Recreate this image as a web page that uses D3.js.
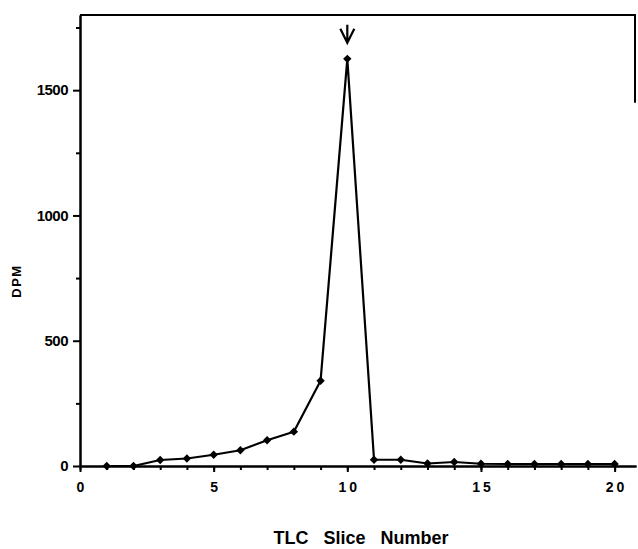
<!DOCTYPE html>
<html>
<head>
<meta charset="utf-8">
<script src="https://cdn.jsdelivr.net/npm/d3@7"></script>
<style>
  body { margin: 0; background: #fff; }
  svg { display: block; font-family: "Liberation Sans", Arial, sans-serif; }
  .axis path, .axis line { stroke: #000; stroke-width: 2; }
  .axis text { font-weight: bold; fill: #000; }
</style>
</head>
<body>
<svg width="638" height="549"></svg>
<script>
// TLC slice numbers and measured radioactivity
const slices = [1, 2, 3, 4, 5, 6, 7, 8, 9, 10, 11, 12, 13, 14, 15, 16, 17, 18, 19, 20];
const dpm = [0, 0, 24, 30, 45, 63, 103, 137, 340, 1625, 25, 25, 10, 16, 9, 8, 8, 8, 8, 8];
const xMajorTicks = [0, 5, 10, 15, 20];
const yMajorTicks = [0, 500, 1000, 1500];
const yMinorTicks = [250, 750, 1250, 1750];
const peakSlice = 10;

const svg = d3.select("svg");

// plot box in pixels
const plotLeft = 80, plotRight = 636, plotTop = 15, plotBottom = 466;

const x = d3.scaleLinear().domain([0, 20.8]).range([plotLeft, plotRight]);
const y = d3.scaleLinear().domain([0, 1800]).range([plotBottom, plotTop]);

const data = slices.map((s, i) => ({ s: s, v: dpm[i] }));

// frame: top edge and upper part of the right edge
svg.append("line")
    .attr("x1", x(0)).attr("x2", x(20.8))
    .attr("y1", y(1800)).attr("y2", y(1800))
    .attr("stroke", "#000").attr("stroke-width", 2);
svg.append("line")
    .attr("x1", x(20.8) - 1).attr("x2", x(20.8) - 1)
    .attr("y1", y(1800)).attr("y2", y(1450))
    .attr("stroke", "#000").attr("stroke-width", 2);

// x axis: small ticks at every slice, longer at multiples of 5
svg.append("g")
    .attr("class", "axis")
    .attr("transform", `translate(0,${plotBottom})`)
    .call(d3.axisBottom(x).tickValues(d3.range(0, 21)).tickSize(4).tickFormat("").tickSizeOuter(0));
const xAxis = svg.append("g")
    .attr("class", "axis")
    .attr("transform", `translate(0,${plotBottom})`)
    .call(d3.axisBottom(x).tickValues(xMajorTicks).tickSize(6).tickPadding(10).tickSizeOuter(0));
xAxis.selectAll("text")
    .style("font-size", "14px")
    .style("letter-spacing", "3px")
    .attr("dx", "1.5px");

// y axis
svg.append("g")
    .attr("class", "axis")
    .attr("transform", `translate(${plotLeft},0)`)
    .call(d3.axisLeft(y).tickValues(yMinorTicks).tickSize(4).tickFormat("").tickSizeOuter(0));
const yAxis = svg.append("g")
    .attr("class", "axis")
    .attr("transform", `translate(${plotLeft},0)`)
    .call(d3.axisLeft(y).tickValues(yMajorTicks).tickFormat(d3.format("d"))
        .tickSize(7).tickPadding(5).tickSizeOuter(0));
yAxis.selectAll("text")
    .style("font-size", "15px")
    .style("letter-spacing", "-0.5px");

// data line
const line = d3.line().x(d => x(d.s)).y(d => y(d.v));
svg.append("path")
    .datum(data)
    .attr("fill", "none")
    .attr("stroke", "#000")
    .attr("stroke-width", 2.2)
    .attr("stroke-linejoin", "round")
    .attr("d", line);

// markers
svg.append("g")
    .selectAll("path")
    .data(data)
    .enter().append("path")
    .attr("transform", d => `translate(${x(d.s)},${y(d.v)})`)
    .attr("d", d3.symbol().type(d3.symbolDiamond2).size(45))
    .attr("fill", "#000");

// arrow marking the peak
const peak = data.find(d => d.s === peakSlice);
const ax = x(peak.s), ay = y(peak.v) - 16;
svg.append("path")
    .attr("d", `M${ax},${ay - 18}L${ax},${ay} M${ax - 7},${ay - 14}L${ax},${ay}L${ax + 7},${ay - 14}`)
    .attr("fill", "none")
    .attr("stroke", "#000")
    .attr("stroke-width", 2.2);

// axis titles
svg.append("text")
    .attr("x", 361)
    .attr("y", 544)
    .attr("text-anchor", "middle")
    .style("font-size", "18px")
    .style("font-weight", "bold")
    .style("word-spacing", "10px")
    .text("TLC Slice Number");

svg.append("text")
    .attr("transform", "translate(21,281) rotate(-90)")
    .attr("text-anchor", "middle")
    .style("font-size", "13px")
    .style("font-weight", "bold")
    .style("letter-spacing", "1.5px")
    .text("DPM");
</script>
</body>
</html>
